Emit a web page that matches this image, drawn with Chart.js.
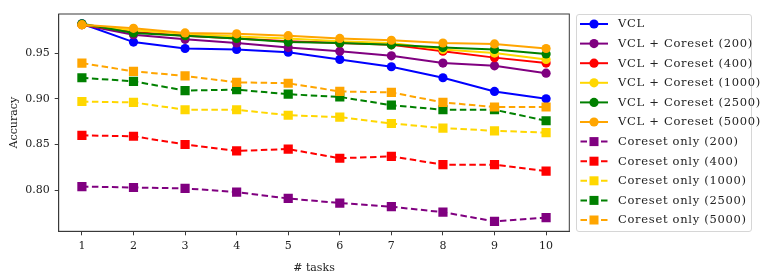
<!DOCTYPE html>
<html lang="en">
<head>
  <meta charset="UTF-8">
  <title>VCL accuracy</title>
  <script src="https://cdn.jsdelivr.net/npm/chart.js"></script>
  <style>
    * { margin: 0; padding: 0; box-sizing: border-box; }
    body { background: #ffffff; }
    #wrap { position: relative; width: 762px; height: 279px; }
  </style>
</head>
<body>
<div id="wrap"><canvas id="accChart"></canvas></div>
<script>
const tasks = [1, 2, 3, 4, 5, 6, 7, 8, 9, 10];
const xTicks = [1, 2, 3, 4, 5, 6, 7, 8, 9, 10];
const yTicks = [0.80, 0.85, 0.90, 0.95];

const vcl      = [0.982, 0.962, 0.955, 0.954, 0.951, 0.943, 0.935, 0.923, 0.908, 0.900];
const vcl200   = [0.981, 0.970, 0.965, 0.961, 0.956, 0.952, 0.947, 0.939, 0.936, 0.928];
const vcl400   = [0.981, 0.973, 0.969, 0.966, 0.963, 0.961, 0.959, 0.952, 0.945, 0.939];
const vcl1000  = [0.981, 0.975, 0.971, 0.968, 0.966, 0.963, 0.961, 0.954, 0.950, 0.943];
const vcl2500  = [0.982, 0.972, 0.969, 0.966, 0.962, 0.961, 0.959, 0.956, 0.954, 0.949];
const vcl5000  = [0.981, 0.977, 0.972, 0.971, 0.969, 0.966, 0.964, 0.961, 0.960, 0.955];
const core200  = [0.804, 0.803, 0.802, 0.798, 0.791, 0.786, 0.782, 0.776, 0.766, 0.770];
const core400  = [0.860, 0.859, 0.850, 0.843, 0.845, 0.835, 0.837, 0.828, 0.828, 0.821];
const core1000 = [0.897, 0.896, 0.888, 0.888, 0.882, 0.880, 0.873, 0.868, 0.865, 0.863];
const core2500 = [0.923, 0.919, 0.909, 0.910, 0.905, 0.902, 0.893, 0.888, 0.888, 0.876];
const core5000 = [0.939, 0.930, 0.925, 0.918, 0.917, 0.908, 0.907, 0.896, 0.891, 0.891];

const series = [
  { label: 'VCL',                  data: vcl,      color: '#0000ff', dashed: false },
  { label: 'VCL + Coreset (200)',  data: vcl200,   color: '#800080', dashed: false },
  { label: 'VCL + Coreset (400)',  data: vcl400,   color: '#ff0000', dashed: false },
  { label: 'VCL + Coreset (1000)', data: vcl1000,  color: '#ffd700', dashed: false },
  { label: 'VCL + Coreset (2500)', data: vcl2500,  color: '#008000', dashed: false },
  { label: 'VCL + Coreset (5000)', data: vcl5000,  color: '#ffa500', dashed: false },
  { label: 'Coreset only (200)',   data: core200,  color: '#800080', dashed: true },
  { label: 'Coreset only (400)',   data: core400,  color: '#ff0000', dashed: true },
  { label: 'Coreset only (1000)',  data: core1000, color: '#ffd700', dashed: true },
  { label: 'Coreset only (2500)',  data: core2500, color: '#008000', dashed: true },
  { label: 'Coreset only (5000)',  data: core5000, color: '#ffa500', dashed: true }
];

const FONT = "'DejaVu Serif', serif";
const DASH = [6.5, 3.5];

// frame around the plot + legend box, matplotlib style
const framePlugin = {
  id: 'frame',
  afterDraw(chart) {
    const { ctx, chartArea: a } = chart;
    ctx.save();
    ctx.strokeStyle = '#3a3a3a';
    ctx.lineWidth = 1;
    ctx.strokeRect(a.left, a.top, a.right - a.left, a.bottom - a.top);

    // legend
    const lx = 576.5, ly = 14.5, lw = 175, lh = 217;
    ctx.fillStyle = 'rgba(255,255,255,0.9)';
    ctx.strokeStyle = '#d6d6d6';
    ctx.beginPath();
    ctx.roundRect(lx, ly, lw, lh, 2.5);
    ctx.fill();
    ctx.stroke();

    ctx.font = '11.5px ' + FONT;
    ctx.letterSpacing = '0.7px';
    ctx.textBaseline = 'middle';
    series.forEach((s, i) => {
      const y = 24 + i * 19.6;
      ctx.strokeStyle = s.color;
      ctx.fillStyle = s.color;
      ctx.lineWidth = 2;
      ctx.setLineDash([]);
      ctx.beginPath();
      if (s.dashed) {
        ctx.moveTo(580.5, y); ctx.lineTo(587, y);
        ctx.moveTo(601, y); ctx.lineTo(607.5, y);
      } else {
        ctx.moveTo(580, y); ctx.lineTo(608, y);
      }
      ctx.stroke();
      if (s.dashed) {
        ctx.fillRect(589.5, y - 4.5, 9, 9);
      } else {
        ctx.beginPath();
        ctx.arc(594, y, 4.6, 0, Math.PI * 2);
        ctx.fill();
      }
      ctx.fillStyle = '#222';
      ctx.fillText(s.label, 618, y + 0.5);
    });
    ctx.restore();
  }
};

const datasets = series.map((s, i) => ({
  label: s.label,
  data: tasks.map((t, j) => ({ x: t, y: s.data[j] })),
  borderColor: s.color,
  backgroundColor: s.color,
  pointBackgroundColor: s.color,
  pointBorderColor: s.color,
  borderWidth: 2,
  borderDash: s.dashed ? DASH : [],
  pointStyle: s.dashed ? 'rect' : 'circle',
  pointRadius: s.dashed ? 6.5 : 4.6,
  pointBorderWidth: 0,
  tension: 0,
  fill: false,
  order: series.length - i
}));

new Chart(document.getElementById('accChart'), {
  type: 'line',
  data: { datasets },
  options: {
    responsive: true,
    maintainAspectRatio: false,
    animation: false,
    layout: { padding: { top: 14, right: 192.7, left: 0, bottom: 0 } },
    plugins: { legend: { display: false }, tooltip: { enabled: false } },
    scales: {
      x: {
        type: 'linear',
        min: 0.55,
        max: 10.45,
        afterBuildTicks: (scale) => { scale.ticks = xTicks.map(v => ({ value: v })); },
        afterFit: (scale) => { scale.height = 47.7; },
        grid: { drawOnChartArea: false, drawTicks: true, tickLength: 4, color: '#3a3a3a' },
        border: { display: true, color: '#3a3a3a' },
        ticks: { color: '#222', padding: 4, font: { family: FONT, size: 11 }, callback: v => String(v) },
        title: { display: true, text: '# tasks', color: '#222', font: { family: FONT, size: 11 }, padding: { top: 0 } }
      },
      y: {
        min: 0.7551,
        max: 0.9927,
        afterBuildTicks: (scale) => { scale.ticks = yTicks.map(v => ({ value: v })); },
        afterFit: (scale) => { scale.width = 58.7; },
        grid: { drawOnChartArea: false, drawTicks: true, tickLength: 4, color: '#3a3a3a' },
        border: { display: true, color: '#3a3a3a' },
        ticks: { color: '#222', padding: 5, font: { family: FONT, size: 11 }, callback: v => v.toFixed(2) },
        title: { display: true, text: 'Accuracy', color: '#222', font: { family: FONT, size: 11 }, padding: { top: 8, bottom: 0 } }
      }
    }
  },
  plugins: [framePlugin]
});
</script>
</body>
</html>
